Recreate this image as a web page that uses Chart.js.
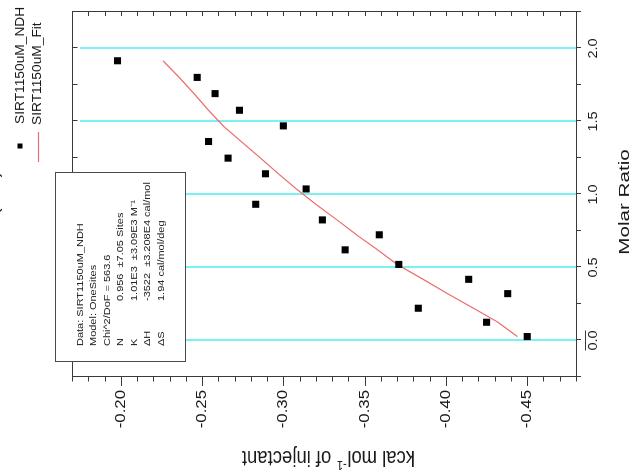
<!DOCTYPE html>
<html>
<head>
<meta charset="utf-8">
<script src="https://cdn.jsdelivr.net/npm/chart.js@4.4.1/dist/chart.umd.min.js"></script>
<style>
  html, body { margin: 0; padding: 0; background: #fff; overflow: hidden; }
  #wrap {
    position: absolute; left: 0; top: 0;
    width: 476px; height: 634px;
    transform-origin: 0 0;
    transform: translate(0, 476px) rotate(-90deg);
  }
</style>
</head>
<body>
<div id="wrap"><canvas id="itc" width="476" height="634"></canvas></div>
<script>
// injections (molar ratio) and integrated heats
const molarRatio = [0.027, 0.125, 0.221, 0.321, 0.419, 0.521, 0.621, 0.724, 0.826, 0.933,
	1.038, 1.142, 1.249, 1.363, 1.470, 1.577, 1.691, 1.802, 1.916];
const heatNDH = [-0.450, -0.425, -0.383, -0.438, -0.414, -0.371, -0.338, -0.359, -0.324, -0.283,
	-0.314, -0.289, -0.266, -0.254, -0.300, -0.273, -0.258, -0.247, -0.198];
const heatFit = [-0.444, -0.432, -0.417, -0.401, -0.386, -0.370, -0.358, -0.345, -0.333, -0.320,
	-0.308, -0.297, -0.286, -0.274, -0.263, -0.254, -0.245, -0.236, -0.226];

const molarTicks = [0.0, 0.5, 1.0, 1.5, 2.0];
const molarLabels = ['0.0', '0.5', '1.0', '1.5', '2.0'];
const kcalTicks = [-0.20, -0.25, -0.30, -0.35, -0.40, -0.45];
const kcalLabels = ['-0.20', '-0.25', '-0.30', '-0.35', '-0.40', '-0.45'];

const seriesNames = ['SIRT1150uM_NDH', 'SIRT1150uM_Fit'];
const fitHeader = ['Data: SIRT1150uM_NDH', 'Model: OneSites', 'Chi^2/DoF = 563.6'];
const fitParams = [
	['N', '0.956  \u00b17.05 Sites'],
	['K', '1.01E3  \u00b13.09E3 M\u207b\u00b9'],
	['\u0394H', '-3522  \u00b13.208E4 cal/mol'],
	['\u0394S', '1.94 cal/mol/deg']
];

const FONT = '"Liberation Sans", Arial, sans-serif';
const lineColor = '#ee6b6b';
const gridCyan = '#78f2f2';
const frameColor = '#3a3a3a';

// text is a bit wider than tall in the original export
function wideText(ctx, str, x, y, size, sx, align) {
	ctx.save();
	ctx.font = size + 'px ' + FONT;
	ctx.textBaseline = 'middle';
	ctx.textAlign = 'left';
	const w = ctx.measureText(str).width * sx;
	let x0 = x;
	if (align === 'center') x0 = x - w / 2;
	if (align === 'right') x0 = x - w;
	ctx.translate(x0, y);
	ctx.scale(sx, 1);
	ctx.fillText(str, 0, 0);
	ctx.restore();
}

const decor = {
	id: 'decor',
	beforeDatasetsDraw(chart) {
		const { ctx, chartArea: a, scales: { x } } = chart;
		ctx.save();
		ctx.strokeStyle = gridCyan;
		ctx.lineWidth = 2;
		molarTicks.forEach(m => {
			const px = Math.round(x.getPixelForValue(m));
			ctx.beginPath();
			ctx.moveTo(px, a.top + 8);
			ctx.lineTo(px, a.bottom);
			ctx.stroke();
		});
		ctx.restore();
	},
	afterDatasetsDraw(chart) {
		const { ctx, chartArea: a, scales: { x, y } } = chart;
		ctx.save();
		ctx.strokeStyle = frameColor;
		ctx.lineWidth = 1;
		ctx.strokeRect(Math.round(a.left) + 0.5, Math.round(a.top) + 0.5,
			Math.round(a.right - a.left), Math.round(a.bottom - a.top));

		ctx.beginPath();
		// molar ratio ticks, every 0.25
		for (let k = -1; k <= 9; k++) {
			const px = Math.round(x.getPixelForValue(k * 0.25)) + 0.5;
			ctx.moveTo(px, a.bottom); ctx.lineTo(px, a.bottom + 5);
			ctx.moveTo(px, a.top); ctx.lineTo(px, a.top + 5.5);
		}
		// heat ticks, every 0.01
		for (let i = -48; i <= -17; i++) {
			const py = Math.round(y.getPixelForValue(i / 100)) + 0.5;
			const len = (i % 5 === 0) ? 9 : 4.5;
			ctx.moveTo(a.left, py); ctx.lineTo(a.left - len, py);
			ctx.moveTo(a.right, py); ctx.lineTo(a.right - 4, py);
		}
		ctx.stroke();
		ctx.restore();
	},
	afterDraw(chart) {
		const { ctx, chartArea: a, scales: { x, y } } = chart;
		ctx.save();
		ctx.fillStyle = '#1a1a1a';

		// tick labels
		molarTicks.forEach((m, i) => {
			wideText(ctx, molarLabels[i], x.getPixelForValue(m), 593, 13, 1.12, 'center');
		});
		kcalTicks.forEach((v, i) => {
			wideText(ctx, kcalLabels[i], 86, y.getPixelForValue(v), 14, 1.2, 'right');
		});
		// small bar over the 0.0 label
		ctx.strokeStyle = frameColor;
		ctx.lineWidth = 1;
		ctx.beginPath();
		ctx.moveTo(x.getPixelForValue(0) - 10, 585.5);
		ctx.lineTo(x.getPixelForValue(0) + 10, 585.5);
		ctx.stroke();

		// axis titles
		wideText(ctx, 'Molar Ratio', 274, 624.5, 15.5, 1.33, 'center');

		ctx.save();
		ctx.translate(19, (a.top + a.bottom) / 2 + 5);
		ctx.scale(1.2, 1);
		ctx.rotate(-Math.PI / 2);
		ctx.textBaseline = 'middle';
		ctx.font = '18.5px ' + FONT;
		const p1 = 'kcal mol', p3 = ' of injectant';
		const w1 = ctx.measureText(p1).width, w3 = ctx.measureText(p3).width;
		ctx.font = '11px ' + FONT;
		const w2 = ctx.measureText('-1').width;
		let sx = -(w1 + w2 + w3) / 2;
		ctx.font = '18.5px ' + FONT;
		ctx.fillText(p1, sx, 0);
		ctx.font = '11px ' + FONT;
		ctx.fillText('-1', sx + w1 + 0.5, -6);
		ctx.font = '18.5px ' + FONT;
		ctx.fillText(p3, sx + w1 + w2 + 1, 0);
		ctx.restore();

		// clipped title of the upper panel
		ctx.save();
		ctx.font = '16px ' + FONT;
		ctx.textBaseline = 'alphabetic';
		ctx.translate(214, -1.5);
		ctx.scale(1.2, 1);
		ctx.fillText('Time (min)', 0, 0);
		ctx.restore();

		// fit result box
		ctx.fillStyle = '#fff';
		ctx.fillRect(114, 55, 189, 130);
		ctx.strokeStyle = '#4a4a4a';
		ctx.strokeRect(114.5, 55.5, 189, 130);
		ctx.fillStyle = '#1a1a1a';
		fitHeader.forEach((t, i) => wideText(ctx, t, 130, 80 + i * 13.5, 9.8, 1.12, 'left'));
		fitParams.forEach((p, i) => {
			const vy = 80 + (i + 3) * 13.5;
			wideText(ctx, p[0], 130, vy, 9.8, 1.12, 'left');
			wideText(ctx, p[1], 175, vy, 9.8, 1.12, 'left');
		});

		// legend
		ctx.fillStyle = '#000';
		ctx.fillRect(327.5, 17.5, 5, 5);
		ctx.strokeStyle = lineColor;
		ctx.lineWidth = 1.2;
		ctx.beginPath();
		ctx.moveTo(314, 38.5); ctx.lineTo(344, 38.5);
		ctx.stroke();
		ctx.fillStyle = '#1a1a1a';
		wideText(ctx, seriesNames[0], 352, 20.5, 12.5, 1.1, 'left');
		wideText(ctx, seriesNames[1], 351, 37.8, 12.5, 1.1, 'left');
		ctx.restore();
	}
};

const ctxItc = document.getElementById('itc').getContext('2d');

const grafico = new Chart(ctxItc, {
	type: 'scatter',
	data: {
		datasets: [{
			label: seriesNames[0],
			data: molarRatio.map((m, i) => ({ x: m, y: heatNDH[i] })),
			pointStyle: 'rect',
			pointRadius: 5,
			pointBackgroundColor: '#000',
			pointBorderWidth: 0,
			showLine: false
		}, {
			label: seriesNames[1],
			data: molarRatio.map((m, i) => ({ x: m, y: heatFit[i] })),
			showLine: true,
			pointRadius: 0,
			borderColor: lineColor,
			borderWidth: 1.2,
			fill: false,
			tension: 0
		}]
	},
	options: {
		responsive: false,
		devicePixelRatio: 1,
		animation: false,
		layout: { padding: { top: 72, right: 12, bottom: 0, left: 0 } },
		plugins: {
			legend: { display: false },
			tooltip: { enabled: false }
		},
		scales: {
			x: {
				type: 'linear', min: -0.25, max: 2.25,
				ticks: { display: false },
				grid: { display: false },
				border: { display: false },
				afterFit: (s) => { s.height = 58; }
			},
			y: {
				type: 'linear', min: -0.48, max: -0.17,
				ticks: { display: false },
				grid: { display: false },
				border: { display: false },
				afterFit: (s) => { s.width = 99; }
			}
		}
	},
	plugins: [decor]
});
</script>
</body>
</html>
